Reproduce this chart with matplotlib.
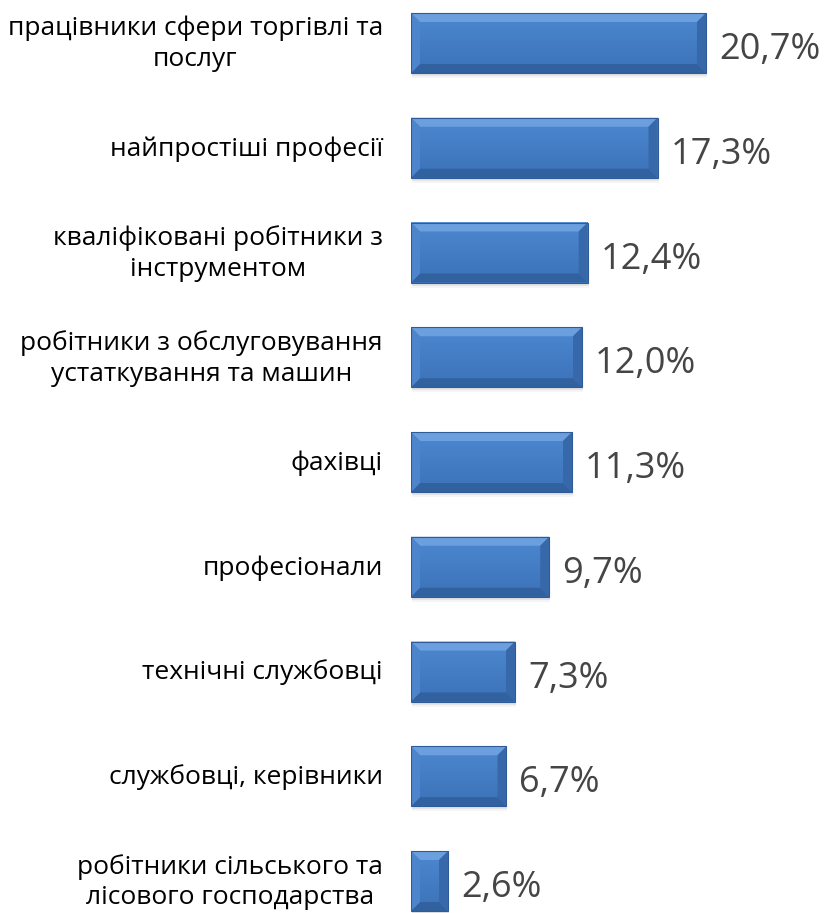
import numpy as np
import matplotlib
matplotlib.use('Agg')
import matplotlib.pyplot as plt
from matplotlib.patches import Polygon, Rectangle

plt.rcParams['font.family'] = ['Open Sans', 'DejaVu Sans']

categories = [
    'працівники сфери торгівлі та\nпослуг',
    'найпростіші професії',
    'кваліфіковані робітники з\nінструментом',
    'робітники з обслуговування\nустаткування та машин',
    'фахівці',
    'професіонали',
    'технічні службовці',
    'службовці, керівники',
    'робітники сільського та\nлісового господарства',
]
values = [20.7, 17.3, 12.4, 12.0, 11.3, 9.7, 7.3, 6.7, 2.6]
value_labels = ['20,7%', '17,3%', '12,4%', '12,0%', '11,3%', '9,7%', '7,3%', '6,7%', '2,6%']

W, H = 824, 913
fig = plt.figure(figsize=(W / 100, H / 100), dpi=100)
ax_left = 411 / W
ax = fig.add_axes([ax_left, 0, 1 - ax_left, 1])

px_per_x = 14.25     # pixels per percent
px_per_y = 104.75    # pixels per category step
ax.set_xlim(0, (W - 411) / px_per_x)
ax.set_ylim(8 + 32 / px_per_y, -43 / px_per_y)
ax.axis('off')

bar_h = 60 / px_per_y
pos = np.arange(len(values))
bars = ax.barh(pos, values, height=bar_h, color='#4680C8', zorder=3)

# bevel sizes in data units
bx = 9 / px_per_x
by = 9 / px_per_y
for b in bars:
    x0, y0 = b.get_x(), b.get_y()
    w, h = b.get_width(), b.get_height()
    x1, y1 = x0 + w, y0 + h
    bxx = min(bx, w / 2.2)
    # soft shadow under bar
    for k, a in enumerate([0.10, 0.07, 0.04]):
        ax.add_patch(Rectangle((x0 + 1 / px_per_x, y1 - 2 / px_per_y),
                               w, (3 + 2 * k) / px_per_y,
                               color='black', alpha=a, lw=0, zorder=2))
    # inner vertical gradient
    grad = np.linspace(0, 1, 64).reshape(-1, 1)
    top_c = np.array([0x4C, 0x88, 0xD0]) / 255
    bot_c = np.array([0x3C, 0x72, 0xB8]) / 255
    img = top_c + (bot_c - top_c) * grad[..., None]
    ax.imshow(img, extent=(x0, x1, y1, y0), aspect='auto', zorder=3.5,
              interpolation='bilinear')
    # top bevel
    ax.add_patch(Polygon([(x0, y0), (x1, y0), (x1 - bxx, y0 + by), (x0 + bxx, y0 + by)],
                         closed=True, color='#6C9FDE', lw=0, zorder=4))
    # bottom bevel
    ax.add_patch(Polygon([(x0, y1), (x1, y1), (x1 - bxx, y1 - by), (x0 + bxx, y1 - by)],
                         closed=True, color='#32619F', lw=0, zorder=4))
    # left bevel
    ax.add_patch(Polygon([(x0, y0), (x0 + bxx, y0 + by), (x0 + bxx, y1 - by), (x0, y1)],
                         closed=True, color='#4D85CC', lw=0, zorder=4))
    # right bevel
    ax.add_patch(Polygon([(x1, y0), (x1 - bxx, y0 + by), (x1 - bxx, y1 - by), (x1, y1)],
                         closed=True, color='#3768AA', lw=0, zorder=4))
    ax.add_patch(Rectangle((x0, y0), w, h, fill=False, ec='#2F5C98', lw=0.8, zorder=5))

# value labels
for i, (v, lab) in enumerate(zip(values, value_labels)):
    ax.text(v + 13 / px_per_x, i + 7 / px_per_y, lab, va='center', ha='left',
            fontsize=26, color='#454545', zorder=6)

# category labels, right-aligned left of the bars
for i, cat in enumerate(categories):
    y_fig = 1 - (44 + i * px_per_y) / H
    fig.text(383 / W, y_fig, cat, ha='right', va='center', fontsize=19,
             color='black', multialignment='center', linespacing=1.3)

fig.savefig('out.png', dpi=100)
